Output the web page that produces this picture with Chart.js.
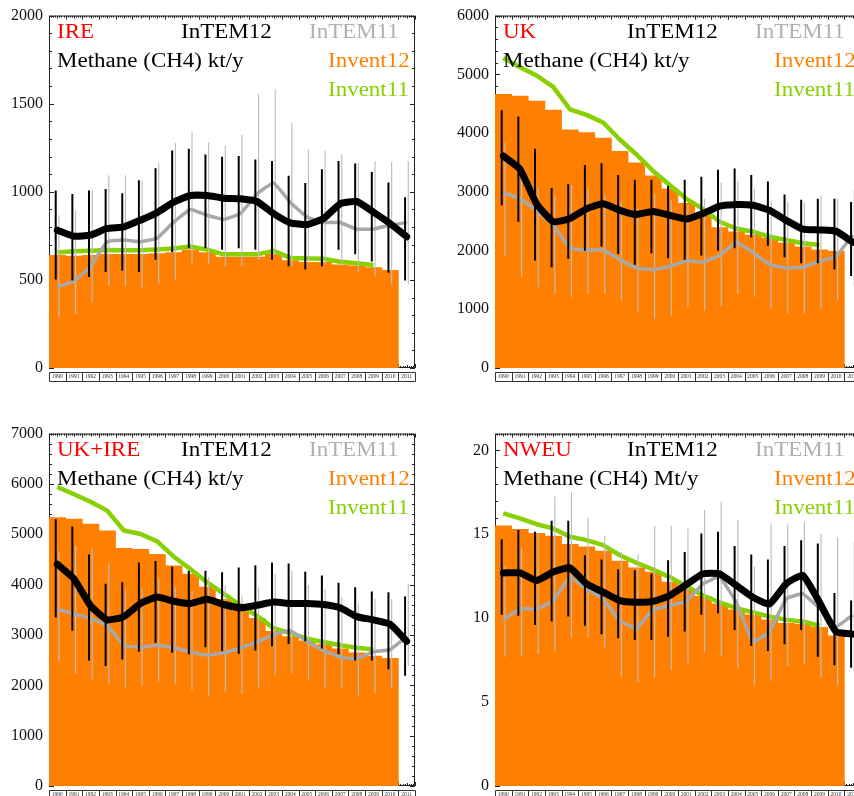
<!DOCTYPE html>
<html>
<head>
<meta charset="utf-8">
<script src="https://cdn.jsdelivr.net/npm/chart.js@4.4.1/dist/chart.umd.min.js"></script>
<style>
  html, body { margin: 0; padding: 0; background: #fff; }
  body { width: 854px; height: 796px; overflow: hidden; position: relative; font-family: "Liberation Serif", "Times New Roman", serif; }
  canvas { position: absolute; }
  .lbl { position: absolute; width: 366px; height: 120px; pointer-events: none; }
  .lbl span { position: absolute; font-size: 20px; line-height: 20px; white-space: nowrap; transform: scaleX(1.15); transform-origin: 0 0; }
</style>
</head>
<body>
<canvas id="c1" width="430" height="400" style="left:0;top:0;width:430px;height:400px"></canvas>
<canvas id="c2" width="430" height="400" style="left:446px;top:0;width:430px;height:400px"></canvas>
<canvas id="c3" width="430" height="400" style="left:0;top:418px;width:430px;height:400px"></canvas>
<canvas id="c4" width="430" height="400" style="left:446px;top:418px;width:430px;height:400px"></canvas>

<script>
// años
const years = ['1990','1991','1992','1993','1994','1995','1996','1997','1998','1999','2000',
               '2001','2002','2003','2004','2005','2006','2007','2008','2009','2010','2011'];

// IRE (kt/y)
const ireInvent12 = [640, 635, 640, 645, 645, 645, 650, 655, 670, 655, 630, 630, 630, 645, 610, 600, 600, 585, 580, 570, 555];
const ireInvent11 = [655, 662, 665, 670, 668, 668, 672, 678, 690, 672, 645, 645, 645, 665, 625, 622, 620, 603, 595, 585];
const ireIntem12 = [782, 748, 755, 792, 801, 839, 882, 941, 979, 979, 964, 960, 945, 876, 824, 814, 848, 932, 945, 885, 820, 745];
const ireIntem12Lo = [502, 497, 516, 545, 553, 545, 615, 657, 680, 680, 671, 680, 671, 615, 577, 559, 577, 671, 646, 605, 540, 497];
const ireIntem12Hi = [1007, 988, 1007, 1016, 992, 1066, 1134, 1234, 1244, 1212, 1199, 1203, 1184, 1175, 1091, 1050, 1128, 1175, 1160, 1113, 1053, 969];
const ireIntem11 = [460, 493, 577, 717, 727, 717, 736, 829, 900, 867, 844, 876, 988, 1050, 941, 857, 826, 826, 788, 788, 811, 826];
const ireIntem11Lo = [288, 303, 372, 465, 465, 456, 475, 502, 596, 587, 577, 577, 615, 640, 577, 596, 587, 577, 540, 521, 478, 478];
const ireIntem11Hi = [867, 889, 1007, 1094, 1094, 1063, 1162, 1277, 1337, 1281, 1262, 1324, 1557, 1582, 1389, 1240, 1231, 1212, 1162, 1175, 1169, 1175];

// UK (kt/y)
const ukInvent12 = [4660, 4630, 4545, 4390, 4055, 4010, 3915, 3690, 3495, 3270, 3050, 2805, 2600, 2390, 2320, 2265, 2210, 2125, 2065, 2010, 1985];
const ukInvent11 = [5280, 5120, 4980, 4785, 4405, 4310, 4180, 3890, 3635, 3355, 3115, 2880, 2710, 2490, 2375, 2320, 2235, 2180, 2125, 2095];
const ukIntem12 = [3610, 3385, 2795, 2490, 2545, 2710, 2795, 2685, 2615, 2665, 2600, 2535, 2630, 2755, 2785, 2770, 2685, 2515, 2365, 2350, 2330, 2140];
const ukIntem12Lo = [2770, 2490, 1830, 1715, 1860, 1995, 2070, 1940, 1760, 1955, 1870, 1845, 1915, 1995, 2040, 2220, 2080, 1885, 1785, 1785, 1675, 1565];
const ukIntem12Hi = [4390, 4280, 3735, 3065, 3130, 3455, 3485, 3285, 3205, 3205, 3105, 3205, 3255, 3375, 3395, 3285, 3175, 2955, 2865, 2880, 2880, 2825];
const ukIntem11 = [2990, 2880, 2685, 2430, 2040, 2010, 2010, 1845, 1705, 1675, 1730, 1825, 1805, 1915, 2140, 1970, 1760, 1705, 1715, 1815, 1900, 2265];
const ukIntem11Lo = [1900, 1545, 1380, 1255, 1210, 1255, 1265, 1145, 945, 835, 890, 1040, 975, 1060, 1255, 1210, 1005, 930, 930, 1005, 1155, 1395];
const ukIntem11Hi = [3830, 3410, 3050, 2935, 3115, 3050, 2935, 2825, 2710, 2965, 2850, 2770, 2880, 3160, 3190, 3050, 2850, 2825, 2825, 2935, 2880, 3020];

// UK+IRE (kt/y)
const ukireInvent12 = [5330, 5300, 5205, 5070, 4720, 4700, 4600, 4375, 4210, 3950, 3710, 3475, 3330, 3070, 2970, 2885, 2810, 2725, 2645, 2580, 2535];
const ukireInvent11 = [5940, 5795, 5645, 5470, 5075, 5005, 4860, 4555, 4310, 4045, 3820, 3590, 3380, 3135, 3035, 2925, 2860, 2795, 2745, 2710];
const ukireIntem12 = [4405, 4115, 3580, 3300, 3365, 3625, 3755, 3670, 3625, 3710, 3605, 3540, 3590, 3655, 3625, 3625, 3605, 3540, 3365, 3300, 3215, 2875];
const ukireIntem12Lo = [3345, 3085, 2495, 2385, 2515, 2665, 2840, 2645, 2615, 2755, 2680, 2625, 2690, 2775, 2820, 2875, 2730, 2615, 2495, 2495, 2320, 2190];
const ukireIntem12Hi = [5300, 5155, 4600, 4015, 4045, 4440, 4470, 4355, 4275, 4275, 4245, 4340, 4385, 4440, 4420, 4255, 4180, 4035, 3950, 3865, 3850, 3765];
const ukireIntem11 = [3515, 3415, 3330, 3185, 2795, 2755, 2795, 2745, 2665, 2600, 2645, 2745, 2860, 3005, 3085, 2875, 2690, 2560, 2530, 2665, 2710, 2970];
const ukireIntem11Lo = [2485, 2220, 2105, 2025, 1960, 1995, 2080, 2040, 1895, 1780, 1865, 1830, 1950, 2210, 2235, 2090, 1950, 1950, 1800, 1845, 1950, 2385];
const ukireIntem11Hi = [4665, 4765, 4730, 4440, 3885, 3915, 4115, 3950, 3885, 4145, 3980, 3785, 3950, 4210, 4275, 3995, 3915, 3755, 3625, 3720, 3710, 4015];

// NWEU (Mt/y)
const nweuInvent12 = [15.5, 15.3, 15.05, 14.9, 14.4, 14.25, 14.0, 13.4, 13.0, 12.75, 12.15, 11.75, 11.3, 10.85, 10.5, 10.2, 9.9, 9.7, 9.65, 9.45, 8.95];
const nweuInvent11 = [16.25, 15.95, 15.6, 15.35, 14.85, 14.65, 14.35, 13.75, 13.3, 12.9, 12.45, 11.9, 11.35, 10.95, 10.6, 10.35, 10.1, 9.9, 9.8, 9.55];
const nweuIntem12 = [12.7, 12.7, 12.25, 12.75, 13.0, 12.05, 11.55, 11.05, 10.95, 11.0, 11.35, 12.0, 12.65, 12.65, 11.95, 11.25, 10.85, 12.05, 12.55, 10.95, 9.2, 9.05];
const nweuIntem12Lo = [10.2, 10.15, 9.6, 9.8, 10.1, 9.55, 9.05, 8.8, 8.7, 8.7, 8.9, 9.2, 10.2, 10.3, 9.3, 8.35, 8.05, 8.45, 9.3, 7.7, 7.2, 7.05];
const nweuIntem12Hi = [14.7, 15.25, 15.15, 15.8, 15.8, 13.75, 13.5, 12.9, 12.85, 12.65, 13.45, 13.95, 15.05, 15.15, 14.3, 13.8, 13.5, 14.3, 14.65, 14.45, 11.5, 11.05];
const nweuIntem11 = [9.9, 10.55, 10.55, 11.05, 12.45, 11.75, 11.15, 9.85, 9.4, 10.5, 10.75, 11.0, 12.05, 12.45, 10.95, 8.6, 9.2, 11.15, 11.45, 10.6, 9.5, 10.2];
const nweuIntem11Lo = [7.7, 7.75, 7.85, 8.05, 8.85, 8.8, 8.2, 6.5, 6.2, 6.5, 6.9, 7.3, 7.95, 7.75, 7.05, 6.0, 6.25, 7.15, 7.25, 6.45, 6.0, 6.8];
const nweuIntem11Hi = [13.1, 14.2, 15.05, 17.25, 17.5, 15.95, 14.9, 13.95, 13.8, 15.5, 15.5, 15.35, 16.45, 16.95, 15.85, 13.1, 15.65, 15.65, 15.75, 15.05, 14.8, 14.6];

const NARANJA = '#ff8000';
const VERDE = '#88d000';
const GRIS = '#a8a8a8';
const GRIS_CLARO = '#bdbdbd';

const paneles = [
    { id: 'c1', left: 0,   top: 0,   region: 'IRE',    unidad: 'kt/y', max: 2000, paso: 500,
      inv12: ireInvent12, inv11: ireInvent11, t12: ireIntem12, t12lo: ireIntem12Lo, t12hi: ireIntem12Hi,
      t11: ireIntem11, t11lo: ireIntem11Lo, t11hi: ireIntem11Hi },
    { id: 'c2', left: 446, top: 0,   region: 'UK',     unidad: 'kt/y', max: 6000, paso: 1000,
      inv12: ukInvent12, inv11: ukInvent11, t12: ukIntem12, t12lo: ukIntem12Lo, t12hi: ukIntem12Hi,
      t11: ukIntem11, t11lo: ukIntem11Lo, t11hi: ukIntem11Hi },
    { id: 'c3', left: 0,   top: 418, region: 'UK+IRE', unidad: 'kt/y', max: 7000, paso: 1000,
      inv12: ukireInvent12, inv11: ukireInvent11, t12: ukireIntem12, t12lo: ukireIntem12Lo, t12hi: ukireIntem12Hi,
      t11: ukireIntem11, t11lo: ukireIntem11Lo, t11hi: ukireIntem11Hi },
    { id: 'c4', left: 446, top: 418, region: 'NWEU',   unidad: 'Mt/y', max: 21, paso: 5,
      inv12: nweuInvent12, inv11: nweuInvent11, t12: nweuIntem12, t12lo: nweuIntem12Lo, t12hi: nweuIntem12Hi,
      t11: nweuIntem11, t11lo: nweuIntem11Lo, t11hi: nweuIntem11Hi }
];

// Marco, reglas de ticks y cajas de años (decoración de ejes)
const marcoPlugin = {
    id: 'marco',
    beforeDatasetsDraw(chart) {
        const { ctx, chartArea: a, scales: { x, y } } = chart;
        const n = years.length;
        const w = x.getPixelForValue(1) - x.getPixelForValue(0);
        ctx.save();
        ctx.strokeStyle = '#222';
        ctx.lineWidth = 1;
        ctx.beginPath();
        ctx.rect(a.left + 0.5, a.top + 0.5, a.right - a.left - 1, a.bottom - a.top - 1);
        // regla densa arriba y abajo
        for (let k = 0; k <= n * 8; k++) {
            const px = Math.round(x.getPixelForValue(0) - w / 2 + k * w / 8) + 0.5;
            const len = k % 8 === 0 ? 4 : (k % 4 === 0 ? 3 : 2);
            ctx.moveTo(px, a.top); ctx.lineTo(px, a.top + len);
            ctx.moveTo(px, a.bottom); ctx.lineTo(px, a.bottom - len);
        }
        // ticks del eje y, hacia dentro, a ambos lados
        const paso = y.options.ticks.stepSize;
        const menor = paso / 5;
        for (let k = 0; k * menor <= y.max + 1e-9; k++) {
            const py = Math.round(y.getPixelForValue(k * menor)) + 0.5;
            const len = k % 5 === 0 ? 5 : 3;
            ctx.moveTo(a.left, py); ctx.lineTo(a.left + len, py);
            ctx.moveTo(a.right, py); ctx.lineTo(a.right - len, py);
        }
        ctx.stroke();
        ctx.restore();
    },
    afterDraw(chart) {
        const { ctx, chartArea: a, scales: { x } } = chart;
        const w = x.getPixelForValue(1) - x.getPixelForValue(0);
        ctx.save();
        ctx.strokeStyle = '#333';
        ctx.lineWidth = 1;
        ctx.beginPath();
        years.forEach((_, i) => {
            const x0 = Math.round(x.getPixelForValue(i) - w / 2) + 0.5;
            const x1 = Math.round(x.getPixelForValue(i) + w / 2) + 0.5;
            ctx.rect(x0, a.bottom + 4.5, x1 - x0, 9);
        });
        ctx.stroke();
        ctx.restore();
    }
};

function crearPanel(p) {
    const ctx = document.getElementById(p.id).getContext('2d');
    new Chart(ctx, {
        type: 'bar',
        data: {
            labels: years,
            datasets: [
                { type: 'line', label: 'InTEM12', data: p.t12, borderColor: '#000', borderWidth: 7,
                  pointRadius: 0, tension: 0.15, borderJoinStyle: 'round', borderCapStyle: 'round', order: 0 },
                { type: 'bar', label: 'InTEM12 err', data: p.t12lo.map((v, i) => [v, p.t12hi[i]]),
                  backgroundColor: '#000', categoryPercentage: 0.385, barPercentage: 0.62, order: 1 },
                { type: 'line', label: 'InTEM11', data: p.t11, borderColor: GRIS, borderWidth: 3.5,
                  pointRadius: 0, tension: 0.1, borderJoinStyle: 'round', order: 2 },
                { type: 'bar', label: 'InTEM11 err', data: p.t11lo.map((v, i) => [v, p.t11hi[i]]),
                  backgroundColor: GRIS_CLARO, categoryPercentage: 0.385, barPercentage: 0.36, order: 3 },
                { type: 'line', label: 'Invent11', data: p.inv11, borderColor: VERDE, borderWidth: 4.5,
                  pointRadius: 0, tension: 0, borderJoinStyle: 'round', order: 4 },
                { type: 'bar', label: 'Invent12', data: p.inv12, backgroundColor: NARANJA, grouped: false,
                  categoryPercentage: 1, barPercentage: 1, borderWidth: 0, order: 5 }
            ]
        },
        options: {
            responsive: false,
            animation: false,
            devicePixelRatio: 1,
            events: [],
            layout: { padding: { left: 0, right: 15, top: 11, bottom: 0 } },
            plugins: { legend: { display: false }, tooltip: { enabled: false } },
            scales: {
                x: {
                    offset: true,
                    grid: { display: false, drawTicks: false },
                    border: { display: false },
                    ticks: { autoSkip: false, maxRotation: 0, padding: 5, color: '#333',
                             font: { family: 'Liberation Serif', size: 5.5 } },
                    afterFit: (s) => { s.height = 32; }
                },
                y: {
                    min: 0, max: p.max,
                    grid: { display: false, drawTicks: false },
                    border: { display: false },
                    ticks: { stepSize: p.paso, includeBounds: false, padding: 6, color: '#111',
                             font: { family: 'Liberation Serif', size: 16 },
                             callback: (v) => String(v) },
                    afterFit: (s) => { s.width = 49; }
                }
            }
        },
        plugins: [marcoPlugin]
    });

    // Textos dentro del gráfico
    const caja = document.createElement('div');
    caja.className = 'lbl';
    caja.style.left = (p.left + 49) + 'px';
    caja.style.top = (p.top + 11) + 'px';
    caja.innerHTML = `
        <span style="left:7.5px;top:10px;color:#ff0000">${p.region}</span>
        <span style="left:132px;top:10px;color:#000">InTEM12</span>
        <span style="left:260px;top:10px;color:#b0b0b0">InTEM11</span>
        <span style="left:7.5px;top:39px;color:#000">Methane (CH4) ${p.unidad}</span>
        <span style="left:279px;top:39px;color:${NARANJA}">Invent12</span>
        <span style="left:279px;top:68px;color:${VERDE}">Invent11</span>`;
    document.body.appendChild(caja);
}

document.addEventListener('DOMContentLoaded', () => {
    paneles.forEach(crearPanel);
});
</script>
</body>
</html>
